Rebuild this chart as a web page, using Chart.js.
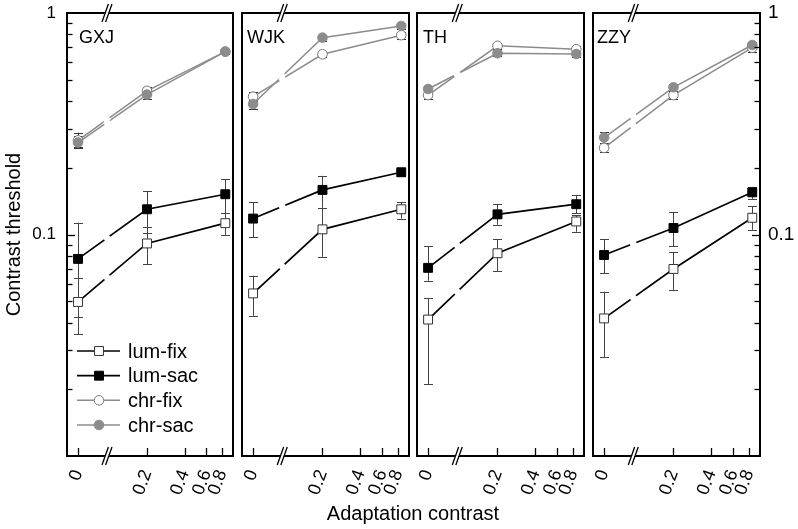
<!DOCTYPE html>
<html><head><meta charset="utf-8">
<script src="https://cdn.jsdelivr.net/npm/chart.js@4.4.0/dist/chart.umd.min.js"></script>
<style>
html,body{margin:0;padding:0;background:#fff;}
#wrap{position:relative;width:798px;height:529px;overflow:hidden;background:#fff;}
canvas{position:absolute;left:0;top:0;}
#xtitle{position:absolute;left:213px;width:400px;top:501px;text-align:center;font:20px 'Liberation Sans',Arial,sans-serif;color:#000;line-height:24px;}
</style></head><body>
<div id="wrap">
<canvas id="c0" width="798" height="529"></canvas>
<canvas id="c1" width="798" height="529"></canvas>
<canvas id="c2" width="798" height="529"></canvas>
<canvas id="c3" width="798" height="529"></canvas>
<div id="xtitle">Adaptation contrast</div>
</div>
<script>
// ---------------- data ----------------
const subjects = ['GXJ', 'WJK', 'TH', 'ZZY'];
const seriesNames = ['lum-fix', 'lum-sac', 'chr-fix', 'chr-sac'];
const adaptContrast = [0, 0.2, 0.85];
const xTickValues = [0, 0.2, 0.4, 0.6, 0.8];
const xTickLabels = ['0', '0.2', '0.4', '0.6', '0.8'];
const yTickValues = [0.1, 1];
const yTickLabels = ['0.1', '1'];

// GXJ
const gxjLumFix = [0.0496, 0.0911, 0.1125];
const gxjLumFixErr = [[0.0355, 0.0635], [0.0735, 0.108], [0.0996, 0.125]];
const gxjLumSac = [0.0776, 0.130, 0.152];
const gxjLumSacErr = [[0.0424, 0.113], [0.102, 0.157], [0.125, 0.178]];
const gxjChrFix = [0.266, 0.445, 0.669];
const gxjChrFixErr = [[0.249, 0.288], [0.425, 0.465], [0.655, 0.685]];
const gxjChrSac = [0.260, 0.428, 0.669];
const gxjChrSacErr = [[0.245, 0.277], [0.410, 0.445], [0.650, 0.690]];
// WJK
const wjkLumFix = [0.0542, 0.1055, 0.130];
const wjkLumFixErr = [[0.0430, 0.0652], [0.0794, 0.132], [0.118, 0.140]];
const wjkLumSac = [0.118, 0.159, 0.191];
const wjkLumSacErr = [[0.0971, 0.140], [0.132, 0.184], [0.183, 0.199]];
const wjkChrFix = [0.419, 0.651, 0.794];
const wjkChrFixErr = [[0.400, 0.440], [0.630, 0.670], [0.765, 0.820]];
const wjkChrSac = [0.388, 0.774, 0.874];
const wjkChrSacErr = [[0.370, 0.405], [0.750, 0.795], [0.845, 0.900]];
// TH
const thLumFix = [0.0413, 0.0823, 0.1145];
const thLumFixErr = [[0.0211, 0.0515], [0.0684, 0.0952], [0.103, 0.122]];
const thLumSac = [0.0707, 0.1233, 0.137];
const thLumSacErr = [[0.0618, 0.0887], [0.1107, 0.1366], [0.125, 0.150]];
const thChrFix = [0.426, 0.711, 0.686];
const thChrFixErr = [[0.410, 0.445], [0.690, 0.735], [0.665, 0.710]];
const thChrSac = [0.454, 0.658, 0.653];
const thChrSacErr = [[0.435, 0.470], [0.640, 0.680], [0.630, 0.675]];
// ZZY
const zzyLumFix = [0.0418, 0.0699, 0.119];
const zzyLumFixErr = [[0.0279, 0.0552], [0.0562, 0.0832], [0.105, 0.134]];
const zzyLumSac = [0.0808, 0.107, 0.155];
const zzyLumSacErr = [[0.0669, 0.0953], [0.0883, 0.126], [0.145, 0.164]];
const zzyChrFix = [0.246, 0.426, 0.697];
const zzyChrFixErr = [[0.235, 0.260], [0.410, 0.445], [0.670, 0.720]];
const zzyChrSac = [0.274, 0.462, 0.717];
const zzyChrSacErr = [[0.260, 0.290], [0.445, 0.480], [0.695, 0.740]];

const panelSeries = [
  [[gxjLumFix, gxjLumFixErr], [gxjLumSac, gxjLumSacErr], [gxjChrFix, gxjChrFixErr], [gxjChrSac, gxjChrSacErr]],
  [[wjkLumFix, wjkLumFixErr], [wjkLumSac, wjkLumSacErr], [wjkChrFix, wjkChrFixErr], [wjkChrSac, wjkChrSacErr]],
  [[thLumFix, thLumFixErr], [thLumSac, thLumSacErr], [thChrFix, thChrFixErr], [thChrSac, thChrSacErr]],
  [[zzyLumFix, zzyLumFixErr], [zzyLumSac, zzyLumSacErr], [zzyChrFix, zzyChrFixErr], [zzyChrSac, zzyChrSacErr]]
];

// ---------------- axis mapping (broken axis) ----------------
const ZERO_AT = 0.0559;   // where "0" sits on the log axis
const BREAK_AT = 0.0955;  // axis break position
const X_MIN = 0.0456, X_MAX = 0.98;
const xPos = v => (v === 0 ? ZERO_AT : v);

const FONT = "'Liberation Sans', Arial, sans-serif";
Chart.defaults.font.family = FONT;
Chart.defaults.font.size = 18;
Chart.defaults.color = '#000';

const GRAY = '#8c8c8c';
const styles = [
  {line: '#000', bg: '#fff', pb: '#333', shape: 'rect', r: 6.3, w: 1.7, err: '#444'},
  {line: '#000', bg: '#000', pb: '#000', shape: 'rect', r: 6.3, w: 1.7, err: '#444'},
  {line: GRAY, bg: '#fff', pb: '#777', shape: 'circle', r: 4.8, w: 1.5, err: '#333'},
  {line: GRAY, bg: GRAY, pb: GRAY, shape: 'circle', r: 4.8, w: 1.5, err: '#333'}
];

function drawMarker(ctx, st, x, y) {
  ctx.save();
  ctx.fillStyle = st.bg; ctx.strokeStyle = st.pb; ctx.lineWidth = 1;
  ctx.beginPath();
  if (st.shape === 'rect') {
    const s = st.r * Math.SQRT1_2;
    ctx.rect(x - s, y - s, 2 * s, 2 * s);
  } else {
    ctx.arc(x, y, st.r, 0, Math.PI * 2);
  }
  ctx.fill(); ctx.stroke();
  ctx.restore();
}

const decoPlugin = {
  id: 'deco',
  beforeDatasetsDraw(chart) {
    const ctx = chart.ctx, ys = chart.scales.y;
    chart.data.datasets.forEach((ds, i) => {
      const meta = chart.getDatasetMeta(i);
      ctx.save();
      ctx.strokeStyle = ds.errColor; ctx.lineWidth = 1;
      ds.err.forEach((e, j) => {
        const x = Math.round(meta.data[j].x) + 0.5;
        const y1 = ys.getPixelForValue(e[0]), y2 = ys.getPixelForValue(e[1]);
        ctx.beginPath();
        ctx.moveTo(x, y1); ctx.lineTo(x, y2);
        ctx.moveTo(x - 4.5, Math.round(y1) + 0.5); ctx.lineTo(x + 4.5, Math.round(y1) + 0.5);
        ctx.moveTo(x - 4.5, Math.round(y2) + 0.5); ctx.lineTo(x + 4.5, Math.round(y2) + 0.5);
        ctx.stroke();
      });
      ctx.restore();
    });
  },
  afterDatasetsDraw(chart, args, opts) {
    const ctx = chart.ctx, xs = chart.scales.x, ys = chart.scales.y;
    const a = chart.chartArea;
    const bx = xs.getPixelForValue(BREAK_AT);
    // gaps in lines at the axis break
    chart.data.datasets.forEach((ds, i) => {
      const meta = chart.getDatasetMeta(i);
      const p0 = meta.data[0], p1 = meta.data[1];
      const t = (bx - p0.x) / (p1.x - p0.x);
      const by = p0.y + t * (p1.y - p0.y);
      const L = Math.hypot(p1.x - p0.x, p1.y - p0.y);
      const ux = (p1.x - p0.x) / L, uy = (p1.y - p0.y) / L;
      ctx.save();
      ctx.strokeStyle = '#fff'; ctx.lineWidth = 4; ctx.lineCap = 'butt';
      ctx.beginPath();
      ctx.moveTo(bx - ux * 3.3, by - uy * 3.3); ctx.lineTo(bx + ux * 3.3, by + uy * 3.3);
      ctx.stroke();
      ctx.restore();
    });
    // markers on top
    chart.data.datasets.forEach((ds, i) => {
      const meta = chart.getDatasetMeta(i);
      meta.data.forEach(p => drawMarker(ctx, styles[i], p.x, p.y));
    });
    ctx.save();
    // frame
    ctx.strokeStyle = '#000'; ctx.lineWidth = 2;
    ctx.strokeRect(a.left, a.top, a.right - a.left, a.bottom - a.top);
    // x ticks inside (bottom)
    ctx.lineWidth = 1.3;
    xTickValues.forEach(v => {
      const x = Math.round(xs.getPixelForValue(xPos(v))) + 0.5;
      ctx.beginPath(); ctx.moveTo(x, a.bottom); ctx.lineTo(x, a.bottom - 8); ctx.stroke();
    });
    // y ticks inside
    if (opts.yTicks) {
      const side = opts.yTicks;
      const x0 = side === 'left' ? a.left : a.right;
      const dir = side === 'left' ? 1 : -1;
      [0.01, 0.1].forEach(dec => {
        for (let m = 2; m <= 9; m++) {
          const y = Math.round(ys.getPixelForValue(dec * m)) + 0.5;
          ctx.beginPath(); ctx.moveTo(x0, y); ctx.lineTo(x0 + dir * 5.5, y); ctx.stroke();
        }
      });
      const y = Math.round(ys.getPixelForValue(0.1)) + 0.5;
      ctx.beginPath(); ctx.moveTo(x0, y); ctx.lineTo(x0 + dir * 8, y); ctx.stroke();
    }
    // break marks
    [a.top, a.bottom].forEach(yc => {
      const d = 1.8, h = 9, s = 3.2;
      ctx.fillStyle = '#fff';
      ctx.beginPath();
      ctx.moveTo(bx - d - s, yc + 3); ctx.lineTo(bx - d + s, yc - 3);
      ctx.lineTo(bx + d + s, yc - 3); ctx.lineTo(bx + d - s, yc + 3);
      ctx.closePath(); ctx.fill();
      ctx.strokeStyle = '#000'; ctx.lineWidth = 1.3;
      ctx.beginPath();
      ctx.moveTo(bx - d - s, yc + h); ctx.lineTo(bx - d + s, yc - h);
      ctx.moveTo(bx + d - s, yc + h); ctx.lineTo(bx + d + s, yc - h);
      ctx.stroke();
    });
    // panel label
    ctx.fillStyle = '#000';
    ctx.font = '18px ' + FONT;
    ctx.textBaseline = 'alphabetic'; ctx.textAlign = 'left';
    ctx.fillText(opts.label, a.left + opts.labelDx, 43);
    // legend
    if (opts.legend) {
      ctx.font = '20px ' + FONT;
      ctx.textBaseline = 'middle';
      chart.data.datasets.forEach((ds, i) => {
        const y = opts.legendY[i];
        ctx.strokeStyle = ds.borderColor; ctx.lineWidth = styles[i].w;
        ctx.beginPath(); ctx.moveTo(a.left + 10, y); ctx.lineTo(a.left + 53, y); ctx.stroke();
        drawMarker(ctx, styles[i], a.left + 32, y);
        ctx.fillStyle = '#000';
        ctx.fillText(ds.label, a.left + 61, y + 1);
      });
    }
    ctx.restore();
  }
};

const panelLeft = [67, 242, 417, 593];
const panelRight = [233, 409, 584, 760];
const labelDx = [12, 5, 6, 4];

subjects.forEach((subj, p) => {
  const datasets = panelSeries[p].map((s, i) => ({
    label: seriesNames[i],
    data: s[0].map((v, j) => ({x: xPos(adaptContrast[j]), y: v})),
    err: s[1],
    errColor: styles[i].err,
    borderColor: styles[i].line,
    borderWidth: styles[i].w,
    pointStyle: styles[i].shape,
    pointRadius: 0,
    tension: 0,
    fill: false
  }));
  const hasY = (p === 0 || p === 3);
  const yw = p === 0 ? 67 : (p === 3 ? 38 : 0);
  const padL = p === 0 ? 0 : panelLeft[p];
  const padR = p === 3 ? 0 : 798 - panelRight[p];
  new Chart(document.getElementById('c' + p), {
    type: 'line',
    data: {datasets},
    options: {
      responsive: false, animation: false, devicePixelRatio: 1,
      layout: {padding: {left: padL, right: padR, top: 13, bottom: 0}},
      plugins: {
        legend: {display: false}, tooltip: {enabled: false},
        deco: {label: subj, labelDx: labelDx[p], yTicks: p === 0 ? 'left' : (p === 3 ? 'right' : null),
               legend: p === 0, legendY: [351, 375.7, 400.3, 425]}
      },
      scales: {
        x: {
          type: 'logarithmic', min: X_MIN, max: X_MAX,
          grid: {display: false, drawTicks: false}, border: {display: false},
          afterBuildTicks: s => { s.ticks = xTickValues.map(v => ({value: xPos(v)})); },
          afterFit: s => { s.height = 73; s.paddingLeft = 0; s.paddingRight = 0; },
          ticks: {autoSkip: false, minRotation: 70, maxRotation: 70, padding: 11,
                  callback: (v, i) => xTickLabels[i], font: {size: 18}, color: '#000'}
        },
        y: {
          type: 'logarithmic', min: 0.01, max: 1, display: hasY,
          position: p === 3 ? 'right' : 'left',
          grid: {display: false, drawTicks: false}, border: {display: false},
          afterBuildTicks: s => { s.ticks = yTickValues.map(v => ({value: v})); },
          afterFit: s => { s.width = yw; s.paddingTop = 0; s.paddingBottom = 0; },
          ticks: {padding: p === 0 ? 11 : 8, callback: (v, i) => yTickLabels[i],
                  font: {size: p === 0 ? 17 : 19}, color: '#000'},
          title: {display: p === 0, text: 'Contrast threshold', font: {size: 20}, color: '#000',
                  padding: {top: 2, bottom: 0}}
        }
      }
    },
    plugins: [decoPlugin]
  });
});
</script>
</body></html>
